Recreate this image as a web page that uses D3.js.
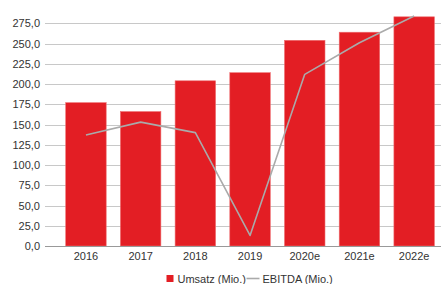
<!DOCTYPE html>
<html><head><meta charset="utf-8">
<script src="https://cdn.jsdelivr.net/npm/d3@7"></script>
<style>body{margin:0;background:#fff}svg{display:block;font-family:"Liberation Sans",Arial,sans-serif}</style>
</head><body><svg id="c" width="441" height="284"></svg>
<script>
const categories = ["2016","2017","2018","2019","2020e","2021e","2022e"];
const umsatz = [177, 166, 204, 214, 254, 264, 283];
const ebitda = [137, 153, 140, 13, 212, 251, 284];
const yTicks = [0,25,50,75,100,125,150,175,200,225,250,275];
const seriesNames = ["Umsatz (Mio.)", "EBITDA (Mio.)"];

const svg = d3.select("#c");
const x = d3.scaleBand().domain(categories).range([58.6, 441.5]).paddingInner(0.26).paddingOuter(0.13);
const y = d3.scaleLinear().domain([0, 275]).range([246, 23.3]);
const fmt = v => d3.format(".1f")(v).replace(".", ",");

// grid
svg.append("g").selectAll("line").data(yTicks.filter(t=>t>0)).join("line")
  .attr("x1", 45).attr("x2", 441).attr("y1", d=>Math.round(y(d))+0.5).attr("y2", d=>Math.round(y(d))+0.5)
  .attr("stroke", "#c8c8c8").attr("stroke-width", 1);

// y labels
const yAxis = d3.axisLeft(y).tickValues(yTicks).tickFormat(fmt).tickSize(0).tickPadding(0);
const ya = svg.append("g").attr("transform","translate(40,0)").call(yAxis);
ya.select(".domain").remove();
ya.selectAll("text").attr("font-size", 11).attr("fill", "#333").attr("font-family", "Liberation Sans, Arial, sans-serif");

// bars
svg.append("g").selectAll("rect").data(umsatz).join("rect")
  .attr("x", (d,i)=>x(categories[i])).attr("width", x.bandwidth())
  .attr("y", d=>y(d)).attr("height", d=>y(0)-y(d))
  .attr("fill", "#e31e24").attr("stroke", "#ee6e70").attr("stroke-width", 0.6);

// baseline
svg.append("line").attr("x1",45).attr("x2",441).attr("y1",Math.round(y(0))+0.5).attr("y2",Math.round(y(0))+0.5)
  .attr("stroke","#999").attr("stroke-width",1);

// line
const line = d3.line().x((d,i)=>x(categories[i])+x.bandwidth()/2).y(d=>y(d));
svg.append("path").datum(ebitda).attr("d", line).attr("fill","none")
  .attr("stroke","#aaaaaa").attr("stroke-width",1.6).attr("stroke-linejoin","round");

// x labels
const xAxis = d3.axisBottom(x).tickSize(0).tickPadding(0);
const xa = svg.append("g").attr("transform","translate(0,252)").call(xAxis);
xa.select(".domain").remove();
xa.selectAll("text").attr("font-size", 11).attr("fill", "#333").attr("dy","0.71em").attr("y",0).attr("font-family", "Liberation Sans, Arial, sans-serif");

// legend
const lg = svg.append("g");
lg.append("rect").attr("x",166.5).attr("y",275).attr("width",7).attr("height",7).attr("fill","#e31e24");
lg.append("text").attr("x",177.5).attr("y",282.5).text(seriesNames[0]).attr("font-size",11).attr("fill","#333");
lg.append("line").attr("x1",246.5).attr("x2",259.5).attr("y1",278.5).attr("y2",278.5).attr("stroke","#aaa").attr("stroke-width",1.6);
lg.append("text").attr("x",262.5).attr("y",282.5).text(seriesNames[1]).attr("font-size",11).attr("fill","#333");
</script></body></html>
